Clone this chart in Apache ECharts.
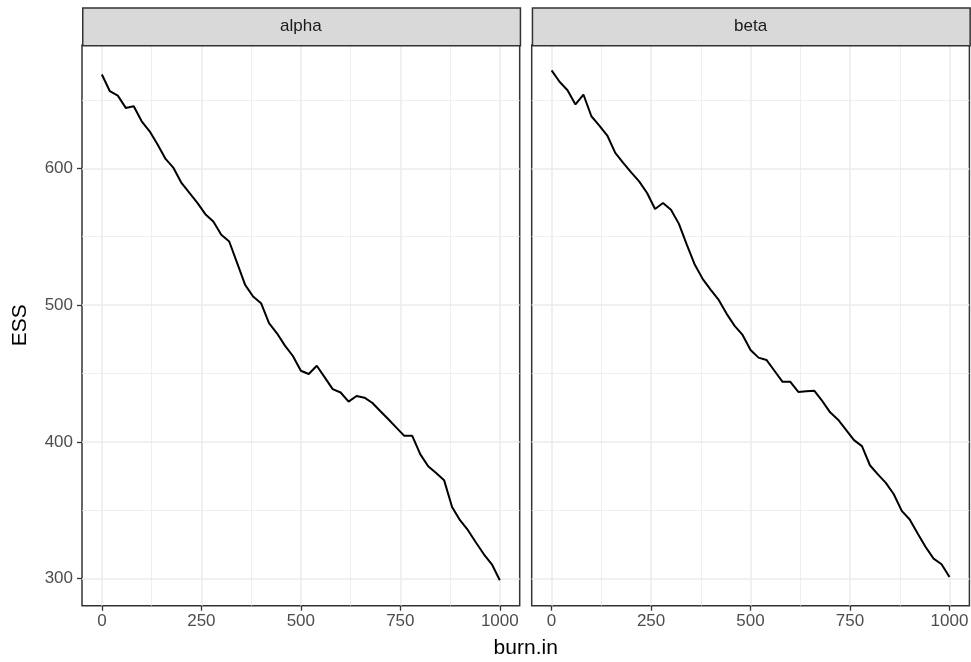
<!DOCTYPE html>
<html>
<head>
<meta charset="utf-8">
<script src="https://cdn.jsdelivr.net/npm/echarts@6/dist/echarts.min.js"></script>
<style>
html,body{margin:0;padding:0;background:#fff;}
#chart{width:971px;height:662px;}
</style>
</head>
<body>
<div id="chart"></div>
<script>
const burnIn = [0,20,40,60,80,100,120,140,160,180,200,220,240,260,280,300,320,340,360,380,400,420,440,460,480,500,520,540,560,580,600,620,640,660,680,700,720,740,760,780,800,820,840,860,880,900,920,940,960,980,1000];
const alphaESS = [668.6,656.4,653.2,644.2,645.4,634.4,627.1,617.4,606.9,600.3,589.3,582.0,574.7,566.5,561.2,551.4,546.5,530.7,514.8,506.3,501.4,486.8,479.4,470.4,462.8,452.0,449.6,455.7,447.2,438.6,436.1,429.4,433.5,432.3,428.4,422.4,416.5,410.4,404.4,404.4,391.0,382.2,377.3,372.0,352.4,342.7,335.4,326.4,317.8,310.5,298.8];
const betaESS = [671.6,663.3,657.1,646.7,654.0,638.1,631.3,624.0,611.3,604.0,597.1,590.5,582.0,570.3,574.7,569.8,559.4,544.0,529.5,519.0,511.2,503.8,493.6,484.8,478.2,467.2,461.6,459.9,452.0,444.0,443.9,436.5,437.0,437.4,430.0,421.6,416.2,408.8,401.3,396.9,382.9,376.2,370.0,361.7,349.5,343.2,333.0,323.1,314.6,310.5,301.2];
const panels = ['alpha', 'beta'];
const xTicks = [0, 250, 500, 750, 1000];
const xMinor = [125, 375, 625, 875];
const yTicks = [300, 400, 500, 600];
const yMinor = [350, 450, 550, 650];

const FONT = 'Liberation Sans, Arial, sans-serif';
const gridTop = 45, gridH = 560.7, gridW = 437.7;
const gridLefts = [82, 531.7];
const tickFont = 17;

const grids = gridLefts.map(l => ({
  left: l, top: gridTop, width: gridW, height: gridH,
  show: true, borderColor: '#333333', borderWidth: 1.5, backgroundColor: '#fff',
  containLabel: false, outerBoundsMode: 'none'
}));

const fmt = v => String(v);
const xAxes = [], yAxes = [];
[0, 1].forEach(i => {
  xAxes.push({
    type: 'value', gridIndex: i, min: -50, max: 1050, position: 'bottom',
    axisLine: {show: false, onZero: false},
    axisTick: {show: true, length: 5, customValues: xTicks, lineStyle: {color: '#333333', width: 1.3}},
    axisLabel: {show: true, customValues: xTicks, formatter: fmt, margin: 7, color: '#4D4D4D', fontSize: tickFont, fontFamily: FONT},
    splitLine: {show: true, lineStyle: {color: '#EBEBEB', width: 1.5}}
  });
  xAxes.push({
    type: 'value', gridIndex: i, min: -50, max: 1050, position: 'bottom',
    axisLine: {show: false, onZero: false},
    axisTick: {show: false, customValues: xMinor},
    axisLabel: {show: false, customValues: xMinor},
    splitLine: {show: true, lineStyle: {color: '#EBEBEB', width: 0.8}}
  });
  yAxes.push({
    type: 'value', gridIndex: i, min: 280.2, max: 690.2, position: 'left',
    axisLine: {show: false, onZero: false},
    axisTick: {show: i === 0, length: 5, customValues: yTicks, lineStyle: {color: '#333333', width: 1.3}},
    axisLabel: {show: i === 0, customValues: yTicks, formatter: fmt, margin: 9, color: '#4D4D4D', fontSize: tickFont, fontFamily: FONT},
    splitLine: {show: true, lineStyle: {color: '#EBEBEB', width: 1.5}},
    name: i === 0 ? 'ESS' : '', nameLocation: 'middle', nameGap: 51,
    nameTextStyle: {color: '#000', fontSize: 21, fontFamily: FONT}
  });
  yAxes.push({
    type: 'value', gridIndex: i, min: 280.2, max: 690.2, position: 'left',
    axisLine: {show: false, onZero: false},
    axisTick: {show: false, customValues: yMinor},
    axisLabel: {show: false, customValues: yMinor},
    splitLine: {show: true, lineStyle: {color: '#EBEBEB', width: 0.8}}
  });
});

const seriesData = [alphaESS, betaESS];
const series = seriesData.map((vals, i) => ({
  type: 'line', xAxisIndex: i * 2, yAxisIndex: i * 2,
  data: burnIn.map((b, k) => [b, vals[k]]),
  showSymbol: false, symbol: 'none',
  lineStyle: {color: '#000', width: 2}, z: 5, animation: false
}));

const graphics = [];
panels.forEach((name, i) => {
  graphics.push({
    type: 'rect', left: gridLefts[i], top: 7.3,
    shape: {width: gridW, height: gridTop - 7.3},
    style: {fill: '#D9D9D9', stroke: '#333333', lineWidth: 1.5}, z: 10
  });
  graphics.push({
    type: 'text', x: gridLefts[i] + gridW / 2, y: 26.5,
    style: {text: name, fill: '#1A1A1A', font: tickFont + 'px ' + FONT, textAlign: 'center', textVerticalAlign: 'middle'}, z: 11
  });
});
graphics.push({
  type: 'text', x: (gridLefts[0] + gridLefts[1] + gridW) / 2, y: 648,
  style: {text: 'burn.in', fill: '#000', font: '21px ' + FONT, textAlign: 'center', textVerticalAlign: 'middle'}, z: 11
});

const chart = echarts.init(document.getElementById('chart'), null, {renderer: 'canvas'});
chart.setOption({
  animation: false,
  backgroundColor: '#fff',
  grid: grids,
  xAxis: xAxes,
  yAxis: yAxes,
  series: series,
  graphic: graphics
});
</script>
</body>
</html>
